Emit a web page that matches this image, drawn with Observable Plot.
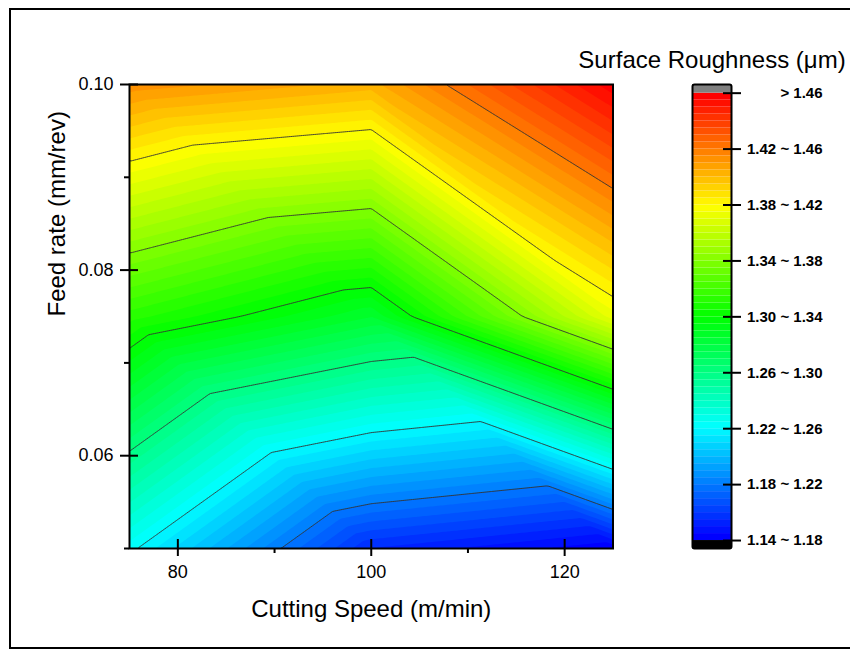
<!DOCTYPE html>
<html>
<head>
<meta charset="utf-8">
<script src="https://cdn.jsdelivr.net/npm/d3@7"></script>
<script src="https://cdn.jsdelivr.net/npm/@observablehq/plot@0.6"></script>
<style>
  html, body { margin: 0; padding: 0; background: #fff; }
  #wrap { position: relative; width: 850px; height: 655px; overflow: hidden; font-family: Arial, "Liberation Sans", sans-serif; }
  #wrap svg { position: absolute; left: 0; top: 0; }
  #outer { position: absolute; left: 9px; top: 8px; width: 860px; height: 641px; box-sizing: border-box; border: 2px solid #000; }
</style>
</head>
<body>
<div id="wrap"><div id="outer"></div></div>
<script>
// ---- data (3 x 3 design) ----
const speeds = [75, 100, 125];            // Cutting speed (m/min)
const feeds = [0.05, 0.075, 0.10];        // Feed rate (mm/rev)
const roughnessFeed005  = [1.2622, 1.1948, 1.181];   // at feed 0.05
const roughnessFeed0075 = [1.3524, 1.3253, 1.4127];  // at feed 0.075
const roughnessFeed010  = [1.4535, 1.4428, 1.4985];  // at feed 0.10

const xTicks = [80, 100, 120];
const xMinorTicks = [90, 110];
const yTicks = [0.06, 0.08, 0.10];
const yMinorTicks = [0.05, 0.07, 0.09];
const lineLevels = [1.22, 1.26, 1.30, 1.34, 1.38, 1.42, 1.46];
const cbTicks = [1.14, 1.18, 1.22, 1.26, 1.30, 1.34, 1.38, 1.42, 1.46];
const cbLabels = ["1.14 ~ 1.18", "1.18 ~ 1.22", "1.22 ~ 1.26", "1.26 ~ 1.30", "1.30 ~ 1.34", "1.34 ~ 1.38", "1.38 ~ 1.42", "1.42 ~ 1.46", "> 1.46"];
const palette = ["#0000ff", "#00ffff", "#00ff00", "#ffff00", "#ff0000"];
const xTitle = "Cutting Speed (m/min)";
const yTitle = "Feed rate (mm/rev)";
const legendTitle = "Surface Roughness (\u03bcm)";

// fill levels: 64 bands of 0.005
const fillLevels = d3.range(64).map(i => +(1.18 + i * 0.005).toFixed(3));
const cbBands = d3.range(64).map(i => ({lo: +(1.14 + i * 0.005).toFixed(3), hi: +(1.145 + i * 0.005).toFixed(3), level: fillLevels[i]}));
const cbTop = 1.4662, cbBottom = 1.1343;

const grid = [roughnessFeed005, roughnessFeed0075, roughnessFeed010];

// linear interpolation on the triangulated 3x3 grid (diagonals top-left -> bottom-right)
function surface(x, y) {
  const i = x < speeds[1] ? 0 : 1;
  const j = y < feeds[1] ? 0 : 1;
  const u = (x - speeds[i]) / (speeds[i + 1] - speeds[i]);
  const v = (y - feeds[j]) / (feeds[j + 1] - feeds[j]);
  const z00 = grid[j][i], z10 = grid[j][i + 1], z01 = grid[j + 1][i], z11 = grid[j + 1][i + 1];
  if (u + v <= 1) return z00 + u * (z10 - z00) + v * (z01 - z00);
  return z11 + (1 - u) * (z01 - z11) + (1 - v) * (z10 - z11);
}

const colorScale = {type: "linear", domain: [1.18, 1.495], interpolate: d3.piecewise(d3.interpolateRgb, palette)};
const font = "Arial, 'Liberation Sans', sans-serif";

const main = Plot.plot({
  width: 850, height: 655,
  marginLeft: 129, marginRight: 237.5, marginTop: 84, marginBottom: 107,
  x: {domain: [75, 125]},
  y: {domain: [0.05, 0.10]},
  color: colorScale,
  style: {background: "transparent", fontFamily: font, fontSize: "18px", color: "#000"},
  marks: [
    Plot.contour({fill: surface, x1: 75, x2: 125, y1: 0.05, y2: 0.10, thresholds: fillLevels, stroke: "none"}),
    Plot.contour({value: surface, x1: 75, x2: 125, y1: 0.05, y2: 0.10, thresholds: lineLevels, fill: "none", stroke: "#333", strokeWidth: 0.9}),
    Plot.axisX({ticks: xTicks, tickSize: 8, tickPadding: 9, strokeWidth: 2, fontSize: 18, label: null}),
    Plot.axisX({ticks: xTicks, tickSize: 9, dy: -9, strokeWidth: 2, fill: "none", label: null}),
    Plot.axisX({ticks: xMinorTicks, tickSize: 5, strokeWidth: 2, fill: "none", label: null}),
    Plot.axisY({ticks: yTicks, tickSize: 9, tickPadding: 7, strokeWidth: 2, tickFormat: d3.format(".2f"), fontSize: 18, label: null}),
    Plot.axisY({ticks: yTicks, tickSize: 9, dx: 9, strokeWidth: 2, fill: "none", label: null}),
    Plot.axisY({ticks: yMinorTicks, tickSize: 5, strokeWidth: 2, fill: "none", label: null}),
    Plot.frame({stroke: "#000", strokeWidth: 2}),
    Plot.text([xTitle], {text: d => d, frameAnchor: "bottom", dy: 61.3, lineAnchor: "middle", fontSize: 24}),
    Plot.text([yTitle], {text: d => d, frameAnchor: "left", dx: -71.7, rotate: -90, lineAnchor: "middle", fontSize: 24})
  ]
});

const bar = Plot.plot({
  width: 850, height: 655,
  marginLeft: 692, marginRight: 119, marginTop: 84, marginBottom: 107,
  y: {domain: [cbBottom, cbTop]},
  color: colorScale,
  style: {background: "transparent", fontFamily: font, fontSize: "15px", color: "#000"},
  marks: [
    Plot.rect(cbBands, {y1: "lo", y2: "hi", fill: "level"}),
    Plot.rect([{lo: 1.46, hi: cbTop}], {y1: "lo", y2: "hi", fill: "#808080"}),
    Plot.rect([{lo: cbBottom, hi: 1.14}], {y1: "lo", y2: "hi", fill: "#000"}),
    Plot.frame({stroke: "#000", strokeWidth: 2, rx: 2}),
    Plot.axisY({anchor: "right", ticks: cbTicks, tickSize: 9, strokeWidth: 2, fill: "none", label: null}),
    Plot.axisY({anchor: "right", ticks: cbTicks, tickSize: 9, dx: -9, strokeWidth: 2, fill: "none", label: null}),
    Plot.text(cbTicks, {y: d => d, text: (d, i) => cbLabels[i], frameAnchor: "right", dx: 91, textAnchor: "end", fontWeight: "bold", fontSize: 15}),
    Plot.text([legendTitle], {text: d => d, frameAnchor: "top", dy: -24.4, lineAnchor: "middle", fontSize: 24})
  ]
});

const wrap = document.getElementById("wrap");
wrap.appendChild(main);
wrap.appendChild(bar);
</script>
</body>
</html>
